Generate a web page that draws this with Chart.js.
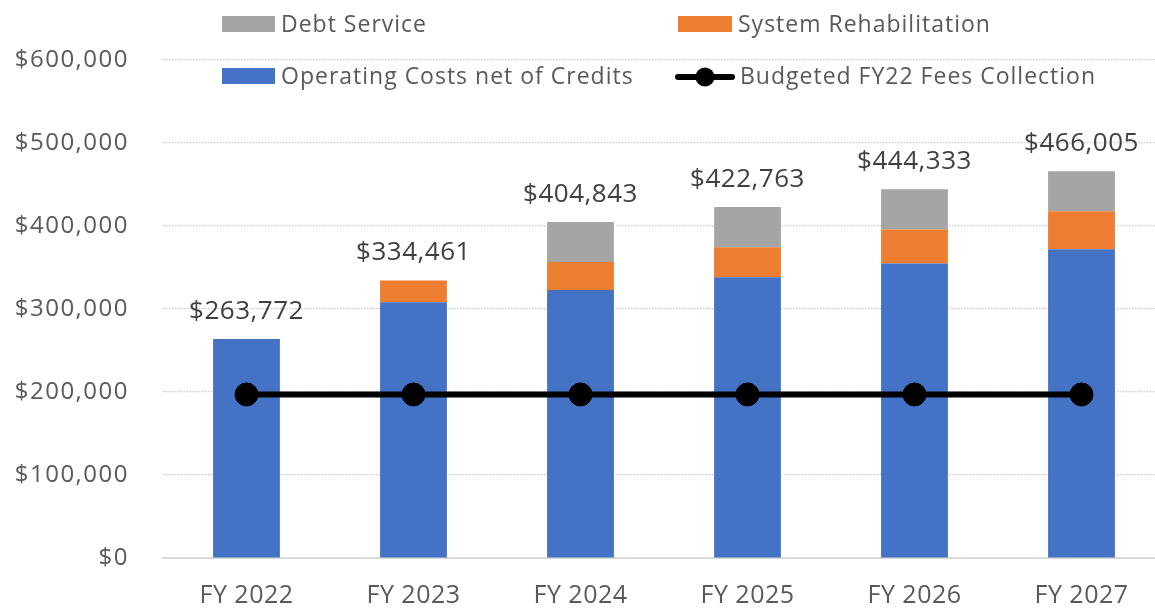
<!DOCTYPE html>
<html>
<head>
<meta charset="utf-8">
<script src="https://cdn.jsdelivr.net/npm/chart.js@4/dist/chart.umd.min.js"></script>
<style>
  html, body { margin: 0; padding: 0; background: #ffffff; overflow: hidden; }
  #c { display: block; }
</style>
</head>
<body>
<canvas id="c" width="1165" height="608"></canvas>
<script>
// ---- data ----
const categories = ['FY 2022', 'FY 2023', 'FY 2024', 'FY 2025', 'FY 2026', 'FY 2027'];
const operatingCosts = [263772, 308000, 323000, 338200, 354700, 371900];
const systemRehab = [0, 26461, 33600, 36100, 41000, 45800];
const debtService = [0, 0, 48243, 48463, 48633, 48305];
const feesCollection = [197000, 197000, 197000, 197000, 197000, 197000];
const yTicks = [0, 100000, 200000, 300000, 400000, 500000, 600000];

const fmt = v => '$' + Math.round(v).toLocaleString('en-US');
const FONT = "'Open Sans', 'Noto Sans', sans-serif";

// letter spacing per scale (to mimic the wide original typeface)
const spacingPlugin = {
  id: 'spacing',
  afterUpdate(chart) {
    const set = (s, ls) => {
      if (!s || s._lsWrapped) return;
      const orig = s.drawLabels.bind(s);
      s.drawLabels = function (area) {
        const c = this.ctx; const prev = c.letterSpacing;
        c.letterSpacing = ls; orig(area); c.letterSpacing = prev;
      };
      s._lsWrapped = true;
    };
    set(chart.scales.y, '1.5px');
    set(chart.scales.x, '0.5px');
  }
};

const totalsPlugin = {
  id: 'totals',
  afterDatasetsDraw(chart) {
    const ctx = chart.ctx;
    const y = chart.scales.y;
    const meta = chart.getDatasetMeta(0);
    ctx.save();
    ctx.font = '26px ' + FONT;
    ctx.letterSpacing = '0.5px';
    ctx.fillStyle = '#404040';
    ctx.textAlign = 'center';
    ctx.textBaseline = 'alphabetic';
    categories.forEach((c, i) => {
      const total = operatingCosts[i] + systemRehab[i] + debtService[i];
      const x = meta.data[i].x;
      ctx.fillText(fmt(total), x, y.getPixelForValue(total) - 20);
    });
    ctx.restore();
  }
};

const legendPlugin = {
  id: 'customLegend',
  afterDraw(chart, args, opts) {
    const ctx = chart.ctx;
    ctx.save();
    ctx.font = '23px ' + FONT;
    ctx.letterSpacing = '1px';
    ctx.textBaseline = 'alphabetic';
    ctx.textAlign = 'left';
    opts.items.forEach(it => {
      const ds = chart.data.datasets[it.ds];
      if (ds.type === 'line') {
        const cy = it.y - 7;
        ctx.strokeStyle = ds.borderColor;
        ctx.lineWidth = 6;
        ctx.lineCap = 'round';
        ctx.beginPath();
        ctx.moveTo(it.x + 2, cy);
        ctx.lineTo(it.x + it.w - 2, cy);
        ctx.stroke();
        ctx.fillStyle = ds.pointBackgroundColor;
        ctx.beginPath();
        ctx.arc(it.x + it.w / 2, cy, 9.5, 0, Math.PI * 2);
        ctx.fill();
      } else {
        ctx.fillStyle = ds.backgroundColor;
        ctx.fillRect(it.x, it.y - 16, it.w, 16);
      }
      ctx.fillStyle = '#595959';
      ctx.fillText(ds.label, it.x + it.w + 6, it.y);
    });
    ctx.restore();
  }
};

new Chart(document.getElementById('c'), {
  type: 'bar',
  data: {
    labels: categories,
    datasets: [
      { label: 'Operating Costs net of Credits', data: operatingCosts, backgroundColor: '#4472C4', stack: 's', order: 1 },
      { label: 'System Rehabilitation', data: systemRehab, backgroundColor: '#ED7D31', stack: 's', order: 1 },
      { label: 'Debt Service', data: debtService, backgroundColor: '#A5A5A5', stack: 's', order: 1 },
      { label: 'Budgeted FY22 Fees Collection', type: 'line', data: feesCollection, borderColor: '#000000', borderWidth: 6,
        pointRadius: 11.5, pointHoverRadius: 11.5, pointBackgroundColor: '#000000', pointBorderColor: '#000000', pointBorderWidth: 1,
        order: 0, tension: 0, clip: false }
    ]
  },
  options: {
    responsive: false,
    animation: false,
    events: [],
    layout: { autoPadding: false, padding: { top: 60, right: 0, bottom: 0, left: 0 } },
    datasets: { bar: { categoryPercentage: 1, barPercentage: 0.4 } },
    plugins: {
      legend: { display: false },
      tooltip: { enabled: false },
      customLegend: {
        items: [
          { ds: 2, x: 222, y: 32, w: 53 },
          { ds: 1, x: 678, y: 32, w: 54 },
          { ds: 0, x: 222, y: 84, w: 53 },
          { ds: 3, x: 676, y: 84, w: 58 }
        ]
      }
    },
    scales: {
      x: {
        stacked: true,
        grid: { display: false, drawTicks: false },
        border: { display: true, color: '#d9d9d9', width: 2 },
        ticks: { color: '#595959', font: { family: FONT, size: 25 }, padding: 23 },
        afterFit(s) { s.height = 50; s.paddingLeft = 0; s.paddingRight = 0; }
      },
      y: {
        stacked: true,
        min: 0, max: 600000,
        afterBuildTicks(s) { s.ticks = yTicks.map(v => ({ value: v })); },
        grid: { color: '#c8c8c8', lineWidth: 1.2, drawTicks: false },
        border: { display: false, dash: [1.5, 1.5] },
        ticks: { color: '#595959', font: { family: FONT, size: 24 }, padding: 34, callback: v => fmt(v) },
        afterFit(s) { s.width = 163; s.paddingTop = 0; s.paddingBottom = 0; }
      }
    }
  },
  plugins: [spacingPlugin, totalsPlugin, legendPlugin]
});
</script>
</body>
</html>
